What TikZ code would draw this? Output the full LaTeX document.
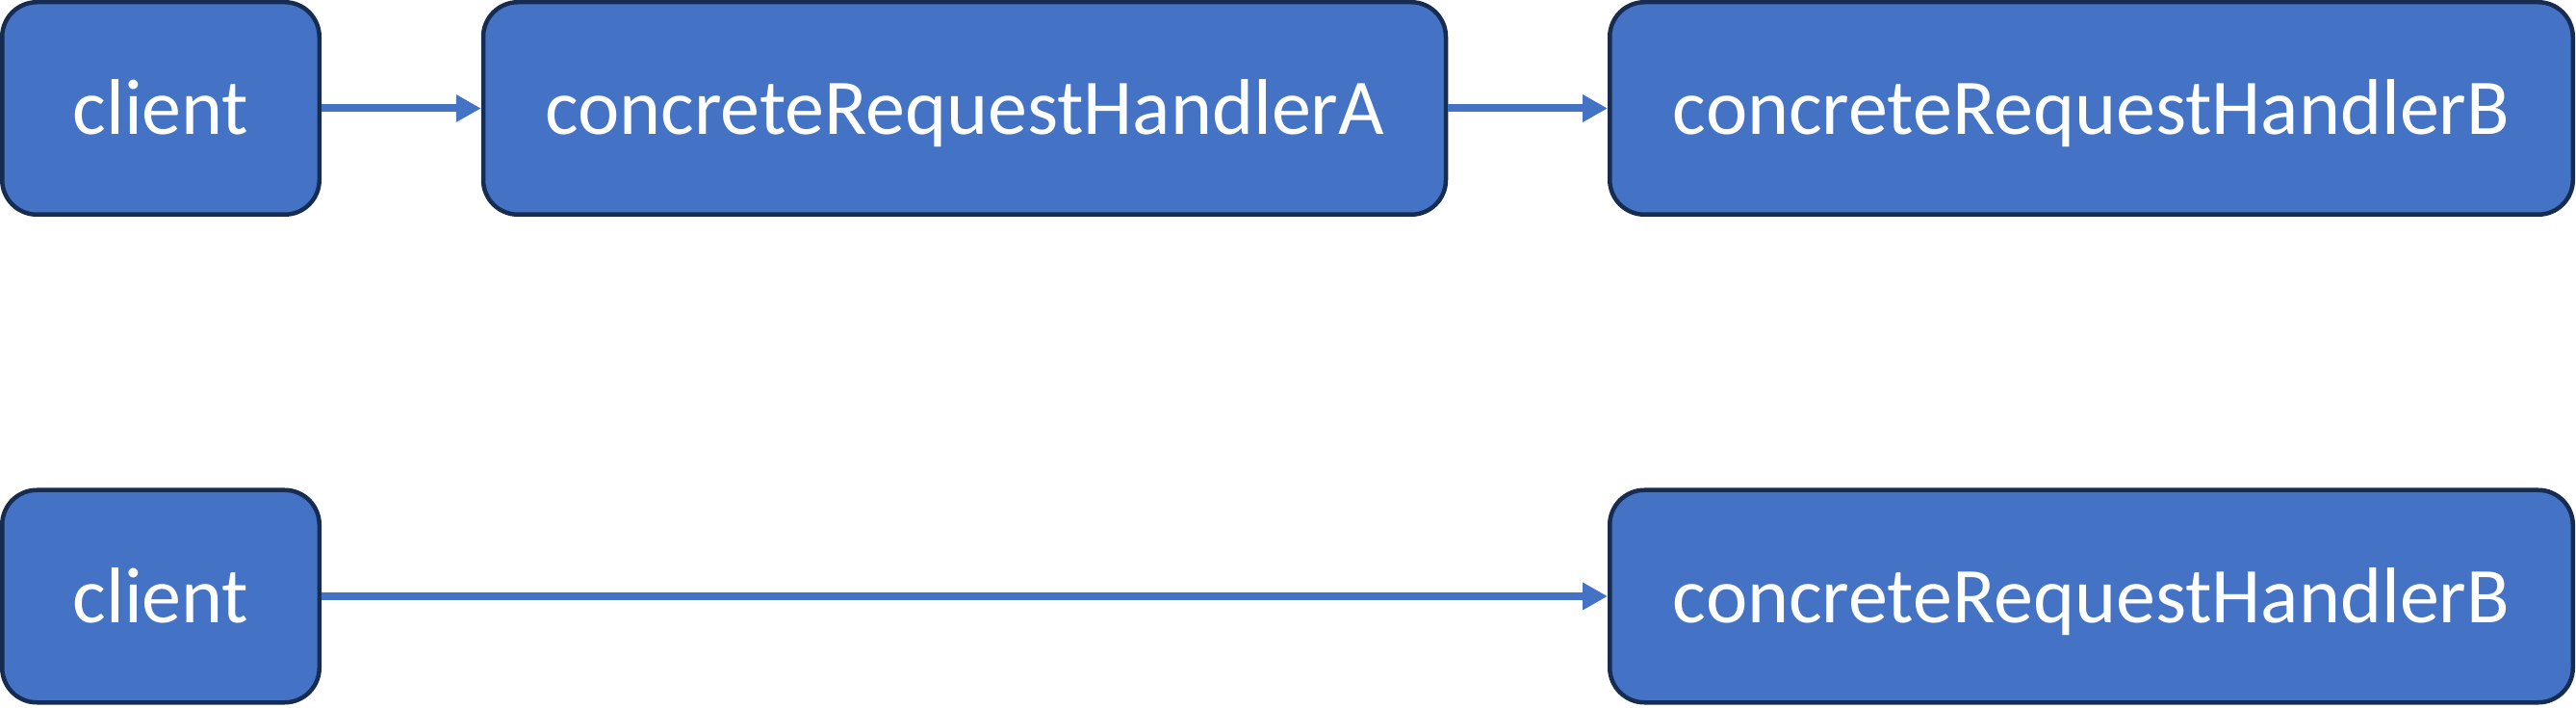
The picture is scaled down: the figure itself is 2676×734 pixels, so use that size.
\documentclass[tikz,border=0pt]{standalone}
\usepackage{fontspec}
\setmainfont{Carlito}
\usetikzlibrary{arrows.meta}
\definecolor{boxfill}{HTML}{4472C4}
\definecolor{boxline}{HTML}{172C51}
\begin{document}
\begin{tikzpicture}[x=1pt,y=1pt,
  box/.style={draw=boxline, fill=boxfill, line width=4.5pt, rounded corners=36pt,
    minimum height=220.5pt, text=white, font=\fontsize{82}{98}\selectfont,
    text height=55pt, text depth=0pt, inner sep=0pt},
  conn/.style={draw=boxfill, line width=8pt, -{Triangle[length=26pt,width=27pt]}}]
\useasboundingbox (0,0) rectangle (2676,734);
\node[box, minimum width=329.5pt] (c1) at (167,621.5) {client};
\node[box, minimum width=1000pt] (a1) at (1002,621.5) {concreteRequestHandlerA};
\node[box, minimum width=1000.5pt] (b1) at (2172.5,621.5) {concreteRequestHandlerB};
\node[box, minimum width=329.5pt] (c2) at (167,115) {client};
\node[box, minimum width=1000.5pt] (b2) at (2172.5,115) {concreteRequestHandlerB};
\draw[conn] (c1) -- (a1);
\draw[conn] (a1) -- (b1);
\draw[conn] (c2) -- (b2);
\end{tikzpicture}
\end{document}
